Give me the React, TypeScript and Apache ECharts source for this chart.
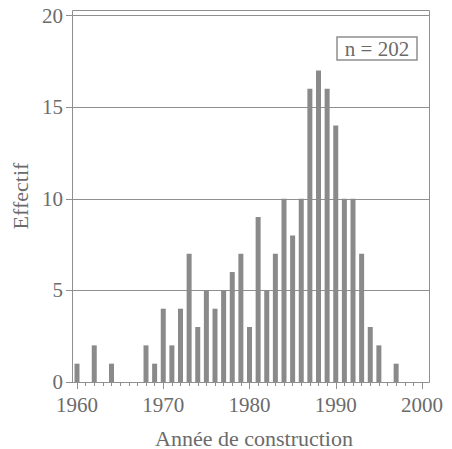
import React, { useEffect, useRef } from "react";
import * as echarts from "echarts";

// Number of buildings per year of construction
const years = [
  1960, 1962, 1964, 1968, 1969, 1970, 1971, 1972, 1973, 1974, 1975, 1976,
  1977, 1978, 1979, 1980, 1981, 1982, 1983, 1984, 1985, 1986, 1987, 1988,
  1989, 1990, 1991, 1992, 1993, 1994, 1995, 1997,
];
const counts = [
  1, 2, 1, 2, 1, 4, 2, 4, 7, 3, 5, 4,
  5, 6, 7, 3, 9, 5, 7, 10, 8, 10, 16, 17,
  16, 14, 10, 10, 7, 3, 2, 1,
];
const yTicks = [0, 5, 10, 15, 20];
const xTitle = "Année de construction";
const yTitle = "Effectif";
const total = counts.reduce((a, b) => a + b, 0);

const FONT = "'Liberation Serif', 'Times New Roman', serif";
const TEXT = "#6b6b6b";
const LINE = "#8f8f8f";

export default function App() {
  const ref = useRef<HTMLDivElement>(null);

  useEffect(() => {
    if (!ref.current) return;
    const chart = echarts.init(ref.current, undefined, { renderer: "svg" });
    chart.setOption({
      animation: false,
      backgroundColor: "#ffffff",
      grid: [
        { left: 72, right: 23, top: 15.5, bottom: 67 },
        { left: 77, right: 30, top: 15.5, bottom: 67 },
      ],
      xAxis: [
        { gridIndex: 0, type: "value", min: 0, max: 1, show: false },
        {
          gridIndex: 1,
          type: "value",
          min: 1960,
          max: 2000,
          interval: 10,
          axisLine: { show: true, lineStyle: { color: LINE, width: 1 } },
          axisTick: { show: true, length: 7, lineStyle: { color: LINE } },
          minorTick: {
            show: true,
            splitNumber: 10,
            length: 4,
            lineStyle: { color: LINE },
          },
          splitLine: { show: false },
          axisLabel: {
            margin: 12,
            fontFamily: FONT,
            fontSize: 21,
            color: TEXT,
            formatter: (v: number) => String(v),
          },
        },
      ],
      yAxis: [
        {
          gridIndex: 0,
          type: "value",
          min: yTicks[0],
          max: yTicks[yTicks.length - 1],
          interval: 5,
          axisLine: { show: false },
          axisTick: { show: true, length: 6, lineStyle: { color: LINE } },
          splitLine: { show: true, lineStyle: { color: LINE, width: 1 } },
          axisLabel: {
            margin: 9,
            fontFamily: FONT,
            fontSize: 21,
            color: TEXT,
          },
        },
        {
          gridIndex: 1,
          type: "value",
          min: yTicks[0],
          max: yTicks[yTicks.length - 1],
          show: false,
        },
      ],
      series: [
        {
          type: "bar",
          xAxisIndex: 1,
          yAxisIndex: 1,
          clip: false,
          barWidth: 5,
          itemStyle: { color: "#8a8a8a" },
          data: years.map((y, i) => [y, counts[i]]),
        },
      ],
      graphic: [
        {
          type: "rect",
          shape: { x: 72.5, y: 10.5, width: 357, height: 372 },
          style: { fill: "none", stroke: LINE, lineWidth: 1 },
          silent: true,
        },
        {
          type: "rect",
          shape: { x: 337, y: 37, width: 80, height: 23 },
          style: { fill: "#ffffff", stroke: LINE, lineWidth: 1.5 },
          z: 10,
        },
        {
          type: "text",
          x: 377,
          y: 49,
          z: 11,
          style: {
            text: `n = ${total}`,
            fontFamily: FONT,
            fontSize: 21,
            fill: TEXT,
            align: "center",
            verticalAlign: "middle",
          },
        },
        {
          type: "text",
          x: 254,
          y: 438,
          style: {
            text: xTitle,
            fontFamily: FONT,
            fontSize: 22,
            fill: TEXT,
            align: "center",
            verticalAlign: "middle",
          },
        },
        {
          type: "text",
          x: 20,
          y: 196,
          rotation: Math.PI / 2,
          style: {
            text: yTitle,
            fontFamily: FONT,
            fontSize: 22,
            fill: TEXT,
            align: "center",
            verticalAlign: "middle",
          },
        },
      ],
    });
    return () => chart.dispose();
  }, []);

  return <div ref={ref} style={{ width: 452, height: 449, marginLeft: -8, marginTop: -8 }} />;
}
